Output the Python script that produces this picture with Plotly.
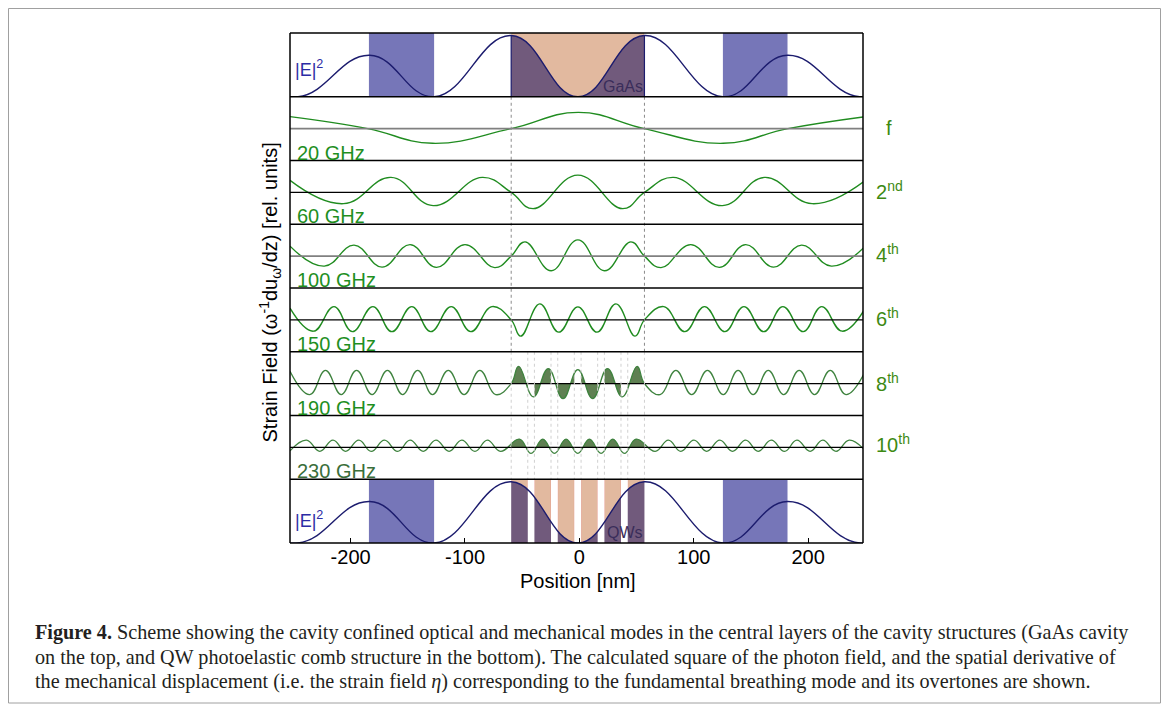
import plotly.graph_objects as go

# ---------------- data ----------------
X_RANGE = [-253, 248]
TICKS = [-200, -100, 0, 100, 200]
TICK_TEXT = ["-200", "-100", "0", "100", "200"]

# optical field |E|^2 (relative); the outermost points lie just outside the view
E_X = [-300, -246, -183.5, -127, -59.6, -1.3, 56.9, 125.5, 182, 245, 300]
E_Y = [0.35, 0, 0.65, 0, 0.96, 0, 0.96, 0, 0.65, 0, 0.35]

# layers
CAVITY = [-59.6, 56.9]
BAR_START = [-184, 125.5]
BAR_END = [-127, 182]
QW_START = [-59.6, -39.3, -18.9, 1.5, 21.9, 42.3]
QW_END = [-45.1, -24.8, -4.4, 16.0, 36.4, 56.9]

# strain fields (rel. units), extrema positions in nm
S20_X = [-253, -185, -128.4, -59.6, -0.8, 56.9, 125.8, 182.3, 250]
S20_Y = [12, 0, -14.7, 0, 16.3, 0, -14.7, 0, 12]

S60_X = [-253, -206.2, -164.7, -127.8, -84.9, -59.6, -40.5, -1.3, 37.9, 56.9,
         82.2, 125.1, 162, 203.5, 250]
S60_Y = [12, -11.3, 15, -13.3, 15, 0, -16.3, 17.3, -16.3, 0,
         15, -13.3, 15, -11.3, 12]

S100_X = [-253, -223, -197, -172.5, -148, -125, -100, -74, -59.6, -47.5, -24.6, -1.3,
          22, 45, 56.9, 71.4, 97.4, 122.4, 145.4, 169.8, 194.3, 220.3, 250]
S100_Y = [10, -10, 11, -11, 11.5, -11.3, 11.5, -11.5, 0, 14.3, -14.7, 16.3,
          -14.7, 14.3, 0, -11.5, 11.5, -11.3, 11.5, -11, 11, -10, 10]

S150_X = [-253, -232.5, -214.5, -198.4, -180.5, -163.9, -146.5, -129.9, -112, -94.9, -76.5,
          -59.6, -51.3, -34.6, -18, -1.3, 15.4, 32, 48.7, 56.9,
          73.9, 92.2, 109.4, 127.2, 143.9, 161.2, 177.9, 195.7, 211.9, 229.8, 250]
S150_Y = [11.7, -11.3, 13.3, -11.8, 13.3, -11.8, 13.3, -11.8, 13.3, -11.8, 13.3,
          0, -16.3, 16, -12.3, 13, -12.3, 16, -16.3, 0,
          13.3, -11.8, 13.3, -11.8, 13.3, -11.8, 13.3, -11.8, 13.3, -11.3, 11.7]

S190_X = [-253, -235.7, -222, -208.2, -194.8, -181.2, -167.8, -154.5, -141.4, -128.4,
          -114.6, -100.8, -87, -73.2, -59.6, -53.1, -40.2, -27.2, -14.3, -1.3, 11.6,
          24.6, 37.5, 50.5, 56.9, 70.6, 84.4, 98.2, 112, 125.8, 138.8, 151.9, 165.2,
          178.6, 192.2, 205.6, 219.4, 233.1, 250]
S190_Y = [12.3, -11, 13.3, -11, 13.3, -11, 13.3, -11, 13.3, -11,
          13.3, -11, 13.3, -11, 0, 17.3, -13.3, 15, -15, 14, -15,
          15, -13.3, 17.3, 0, -11, 13.3, -11, 13.3, -11, 13.3, -11, 13.3,
          -11, 13.3, -11, 13.3, -11, 12.3]

S230_X = [-253, -238.6, -227, -215.4, -204.4, -192.8, -182, -170.4, -158.9, -148,
          -136.5, -125.4, -113.9, -102.8, -91.3, -80.4, -68.9, -52.4, -42.2, -32,
          -21.8, -11.6, -1.4, 8.8, 19, 29.2, 39.4, 49.6, 66.3, 77.8, 88.7, 100.2,
          111.3, 122.8, 133.9, 145.4, 156.3, 167.8, 179.4, 190.2, 201.8, 212.8,
          224.4, 236, 250]
S230_Y = [-3.5, 7.3, -4, 7.3, -4, 7.3, -4, 7.3, -4, 7.3,
          -4, 7.3, -4, 7.3, -4, 7.3, -4, 8.3, -6, 8.3,
          -6, 8.3, -6, 8.3, -6, 8.3, -6, 8.3, -4, 7.3, -4, 7.3,
          -4, 7.3, -4, 7.3, -4, 7.3, -4, 7.3, -4, 7.3,
          -4, 7.3, -3.5]

FREQ_LABELS = ["20 GHz", "60 GHz", "100 GHz", "150 GHz", "190 GHz", "230 GHz"]
ORDER_LABELS = ["f", "2<sup>nd</sup>", "4<sup>th</sup>", "6<sup>th</sup>",
                "8<sup>th</sup>", "10<sup>th</sup>"]

CAPTION = [
    "<b>Figure 4.</b> Scheme showing the cavity confined optical and mechanical modes in the central layers of the cavity structures (GaAs cavity",
    "on the top, and QW photoelastic comb structure in the bottom). The calculated square of the photon field, and the spatial derivative of",
    "the mechanical displacement (i.e. the strain field <i>η</i>) corresponding to the fundamental breathing mode and its overtones are shown.",
]

# ---------------- geometry / styles (screen pixels of the reference) ----------------
W, H = 1169, 715
OFF = 8                      # page body margin
FW, FH = W - 2 * OFF, H - 2 * OFF
PX_L, PX_R = 290, 863
PX_T, PX_B = 33, 543
NROW = 8
PH = (PX_B - PX_T) / NROW
SR = 31.9  # half range of strain panels
SMOOTH = 1.25

NAVY = "#1c1c6e"
BLUE = "#7676b8"
TAN = "#e2b99f"
PURPLE = "#715a7c"
GREEN = "#208c20"
GREEN2 = "#3f833f"
GFILL = "#5f8052"
FONT = "Liberation Sans, Arial, sans-serif"


def xp(X):
    return (X - OFF) / FW


def yp(Y):
    return 1 - (Y - OFF) / FH


def axn(i):
    return ("x", "y") if i == 0 else (f"x{i+1}", f"y{i+1}")


fig = go.Figure()


def add(tr, i):
    xa, ya = axn(i)
    tr.update(xaxis=xa, yaxis=ya, showlegend=False, hoverinfo="skip")
    fig.add_trace(tr)


def rect(x0, x1, y0, y1, color, i):
    add(go.Scatter(x=[x0, x0, x1, x1, x0], y=[y0, y1, y1, y0, y0], mode="lines",
                   fill="toself", fillcolor=color, line=dict(width=0, color=color)), i)


def curve(xs, ys, i, color, width=1.3):
    add(go.Scatter(x=xs, y=ys, mode="lines",
                   line=dict(color=color, width=width, shape="spline", smoothing=SMOOTH)), i)


def fill_curve(xs, ys, i, color):
    add(go.Scatter(x=xs, y=ys, mode="lines", fill="tozeroy", fillcolor=color,
                   line=dict(width=0, color=color, shape="spline", smoothing=SMOOTH)), i)


def complement(starts, ends):
    edges = [X_RANGE[0] - 60]
    for s, e in zip(starts, ends):
        edges += [s, e]
    edges.append(X_RANGE[1] + 60)
    return [(edges[k], edges[k + 1]) for k in range(0, len(edges), 2)]


shapes = []
annotations = []

# ---- top |E|^2 panel (row 0)
shapes.append(dict(type="rect", xref="x", yref="y", x0=CAVITY[0], x1=CAVITY[1], y0=0, y1=1,
                   fillcolor=TAN, line=dict(width=0), layer="below"))
fill_curve(E_X, E_Y, 0, PURPLE)
for a, b in complement([CAVITY[0]], [CAVITY[1]]):
    rect(a, b, 0, 1, "white", 0)
for a, b in zip(BAR_START, BAR_END):
    rect(a, b, 0, 1, BLUE, 0)
for c in CAVITY:
    add(go.Scatter(x=[c, c], y=[0, 0.96], mode="lines", line=dict(color=NAVY, width=1.2)), 0)
curve(E_X, E_Y, 0, NAVY, 1.4)

# ---- bottom |E|^2 panel (row 7)
for a, b in zip(QW_START, QW_END):
    shapes.append(dict(type="rect", xref="x8", yref="y8", x0=a, x1=b, y0=0, y1=1,
                       fillcolor=TAN, line=dict(width=0.8, color="#e89a90"), layer="below"))
fill_curve(E_X, E_Y, 7, PURPLE)
for a, b in complement(QW_START, QW_END):
    rect(a, b, 0, 1, "white", 7)
for a, b in zip(BAR_START, BAR_END):
    rect(a, b, 0, 1, BLUE, 7)
curve(E_X, E_Y, 7, NAVY, 1.4)

# ---- strain panels
strain = [(S20_X, S20_Y), (S60_X, S60_Y), (S100_X, S100_Y), (S150_X, S150_Y),
          (S190_X, S190_Y), (S230_X, S230_Y)]
zero_col = ["#808080", "#000000", "#808080", "#000000", "#000000", "#000000"]
zero_w = [1.8, 1.2, 1.8, 1.2, 1.2, 1.2]
for k, (xs, ys) in enumerate(strain):
    i = k + 1
    assert len(xs) == len(ys)
    if k >= 4:
        fill_curve(xs, ys, i, GFILL)
        for a, b in complement(QW_START, QW_END):
            rect(a, b, -SR, SR, "white", i)
        curve(xs, ys, i, GREEN2, 1.3)
    else:
        curve(xs, ys, i, GREEN, 1.4)
    xa, ya = axn(i)
    shapes.append(dict(type="line", xref=f"{xa} domain", yref=ya, x0=0, x1=1, y0=0, y1=0,
                       line=dict(color=zero_col[k], width=zero_w[k]), layer="above"))
    annotations.append(dict(x=-249, y=-24, xref=xa, yref=ya, text=FREQ_LABELS[k],
                            showarrow=False, xanchor="left", yanchor="middle",
                            font=dict(family=FONT, size=20,
                                      color="#3a6e3a" if k == 5 else "#1f8f1f")))

# dotted guide lines
for c in CAVITY:
    shapes.append(dict(type="line", xref="x", yref="paper", x0=c, x1=c,
                       y0=yp(PX_T + PH), y1=yp(PX_T + 5 * PH),
                       line=dict(color="#8a8a8a", width=1, dash="dot"), layer="above"))
for c in QW_START + QW_END:
    shapes.append(dict(type="line", xref="x", yref="paper", x0=c, x1=c,
                       y0=yp(PX_T + 5 * PH), y1=yp(PX_T + 7 * PH),
                       line=dict(color="#d0d0d0", width=1, dash="dot"), layer="above"))

# panel frames
for r in range(NROW + 1):
    yy = yp(PX_T + r * PH)
    shapes.append(dict(type="line", xref="paper", yref="paper", x0=xp(PX_L), x1=xp(PX_R),
                       y0=yy, y1=yy, line=dict(color="black", width=1.5), layer="above"))
for xx in (PX_L, PX_R):
    shapes.append(dict(type="line", xref="paper", yref="paper", x0=xp(xx), x1=xp(xx),
                       y0=yp(PX_B), y1=yp(PX_T), line=dict(color="black", width=1.5),
                       layer="above"))

# overall figure frame
shapes.append(dict(type="rect", xref="paper", yref="paper", x0=0.5 / FW, x1=1 - 0.5 / FW,
                   y0=yp(703), y1=1 - 0.5 / FH, line=dict(color="#a0a0a0", width=1)))

# texts in the |E|^2 panels
annotations += [
    dict(x=-250, y=0.45, xref="x", yref="y", text="|E|<sup>2</sup>", showarrow=False,
         xanchor="left", yanchor="middle", font=dict(family=FONT, size=18, color="#2b2ba5")),
    dict(x=-250, y=0.37, xref="x8", yref="y8", text="|E|<sup>2</sup>", showarrow=False,
         xanchor="left", yanchor="middle", font=dict(family=FONT, size=18, color="#2b2ba5")),
    dict(x=37.8, y=0.16, xref="x", yref="y", text="GaAs", showarrow=False,
         xanchor="center", yanchor="middle", font=dict(family=FONT, size=16, color="#3a2d5a")),
    dict(x=39.5, y=0.16, xref="x8", yref="y8", text="QWs", showarrow=False,
         xanchor="center", yanchor="middle", font=dict(family=FONT, size=16, color="#3a2d5a")),
]

# order labels on the right
order_y = [128, 190, 253, 317, 382, 443]
for k, (lab, yv) in enumerate(zip(ORDER_LABELS, order_y)):
    annotations.append(dict(x=xp(884 if k == 0 else 874), y=yp(yv), xref="paper", yref="paper",
                            text=lab, showarrow=False, xanchor="left", yanchor="middle",
                            font=dict(family=FONT, size=20, color="#3d8a12")))

# axis titles
annotations.append(dict(x=xp(270), y=yp(292.5), xref="paper", yref="paper", textangle=-90,
                        text="Strain Field (ω<sup>-1</sup>du<sub>ω</sub>/dz) [rel. units]",
                        showarrow=False, xanchor="center", yanchor="middle",
                        font=dict(family=FONT, size=20, color="black")))
annotations.append(dict(x=xp(578), y=yp(581), xref="paper", yref="paper", text="Position [nm]",
                        showarrow=False, xanchor="center", yanchor="middle",
                        font=dict(family=FONT, size=20, color="black")))

# caption
for line, yv in zip(CAPTION, [632, 657, 681]):
    annotations.append(dict(x=xp(33), y=yp(yv), xref="paper", yref="paper", text=line,
                            showarrow=False, xanchor="left", yanchor="middle",
                            font=dict(family="Liberation Serif, Times New Roman, serif",
                                      size=20.2, color="#231f20")))

# axes
lay = {}
for i in range(NROW):
    xa, ya = axn(i)
    xkey = "xaxis" if i == 0 else f"xaxis{i+1}"
    ykey = "yaxis" if i == 0 else f"yaxis{i+1}"
    top = PX_T + i * PH
    bot = top + PH
    last = i == NROW - 1
    lay[xkey] = dict(domain=[xp(PX_L), xp(PX_R)], anchor=ya, range=X_RANGE,
                     showline=False, showgrid=False, zeroline=False,
                     showticklabels=last, ticks="inside" if last else "",
                     tickvals=TICKS if last else [], ticktext=TICK_TEXT if last else [],
                     ticklen=5, tickwidth=1, tickcolor="black",
                     tickfont=dict(family=FONT, size=20, color="black"))
    yr = [0, 1] if i in (0, NROW - 1) else [-SR, SR]
    lay[ykey] = dict(domain=[yp(bot), yp(top)], anchor=xa, range=yr,
                     showline=False, showgrid=False, zeroline=False,
                     showticklabels=False, ticks="")

fig.update_layout(width=FW, height=FH, margin=dict(l=0, r=0, t=0, b=0, pad=0),
                  paper_bgcolor="white", plot_bgcolor="white", showlegend=False,
                  shapes=shapes, annotations=annotations, **lay)

fig.write_html("out.html")
